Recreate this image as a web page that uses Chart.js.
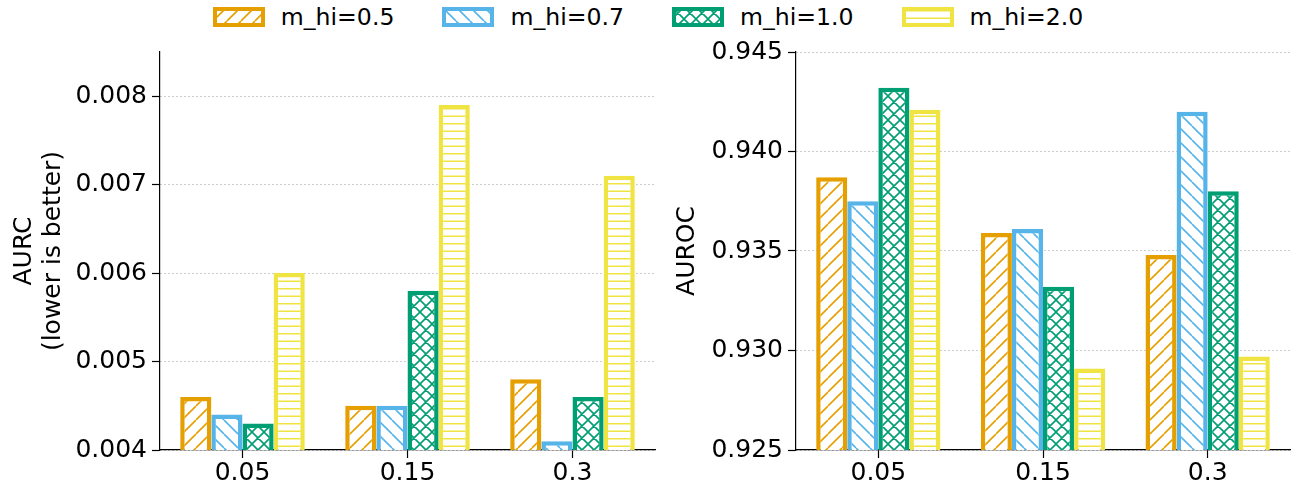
<!DOCTYPE html>
<html>
<head>
<meta charset="utf-8">
<script src="https://cdn.jsdelivr.net/npm/chart.js@4/dist/chart.umd.min.js"></script>
<style>
  body { margin: 0; width: 1296px; height: 492px; position: relative; background: #fff; font-family: "DejaVu Sans", sans-serif; }
  canvas { position: absolute; top: 0; }
  #legend { position: absolute; top: 0; left: 0; width: 1296px; height: 34px; display: flex; justify-content: center; align-items: center; gap: 48px; }
  .item { display: flex; align-items: center; }
  .item span { margin-left: 16px; font-size: 23.6px; color: #000; }
</style>
</head>
<body>
<div id="legend"></div>
<canvas id="aurc" width="660" height="492" style="left:0"></canvas>
<canvas id="auroc" width="636" height="492" style="left:660px"></canvas>
<script>
const categories = ['0.05', '0.15', '0.3'];
const seriesLabels = ['m_hi=0.5', 'm_hi=0.7', 'm_hi=1.0', 'm_hi=2.0'];
const colors = ['#E69F00', '#56B4E9', '#009E73', '#F0E442'];
const hatches = ['/', '\\', 'x', '-'];

// AURC per series, one value per category
const aurc05 = [0.0046, 0.0045, 0.0048];
const aurc07 = [0.0044, 0.0045, 0.0041];
const aurc10 = [0.0043, 0.0058, 0.0046];
const aurc20 = [0.0060, 0.0079, 0.0071];

// AUROC per series
const auroc05 = [0.9387, 0.9359, 0.9348];
const auroc07 = [0.9375, 0.9361, 0.9420];
const auroc10 = [0.9432, 0.9332, 0.9380];
const auroc20 = [0.9421, 0.9291, 0.9297];

function hatchPattern(ctx, color, kind) {
  const s = kind === 'x' ? 12 : (kind === '-' ? 15 : 14);
  const c = document.createElement('canvas');
  c.width = s; c.height = s;
  const g = c.getContext('2d');
  g.fillStyle = '#fff';
  g.fillRect(0, 0, s, s);
  g.strokeStyle = color;
  g.lineWidth = 1.6;
  g.beginPath();
  for (let k = -1; k <= 1; k++) {
    if (kind === '/' || kind === 'x') {
      g.moveTo(k * s, s); g.lineTo(k * s + s, 0);
    }
    if (kind === '\\' || kind === 'x') {
      g.moveTo(k * s, 0); g.lineTo(k * s + s, s);
    }
  }
  if (kind === '-') {
    g.moveTo(0, s / 4); g.lineTo(s, s / 4);
    g.moveTo(0, s * 3 / 4); g.lineTo(s, s * 3 / 4);
  }
  g.stroke();
  return ctx.createPattern(c, 'repeat');
}

// legend
const legend = document.getElementById('legend');
seriesLabels.forEach((lab, i) => {
  const item = document.createElement('div');
  item.className = 'item';
  const sw = document.createElement('canvas');
  sw.width = 52; sw.height = 20;
  sw.style.position = 'static';
  const g = sw.getContext('2d');
  g.fillStyle = hatchPattern(g, colors[i], hatches[i]);
  g.fillRect(0, 0, 52, 20);
  g.strokeStyle = colors[i];
  g.lineWidth = 4;
  g.strokeRect(2, 2, 48, 16);
  const t = document.createElement('span');
  t.textContent = lab;
  item.appendChild(sw);
  item.appendChild(t);
  legend.appendChild(item);
});

function makeChart(id, series, yMin, yMax, step, title, titlePad, yWidth, rightPad) {
  const ctx = document.getElementById(id).getContext('2d');
  return new Chart(ctx, {
    type: 'bar',
    data: {
      labels: categories,
      datasets: series.map((vals, i) => ({
        label: seriesLabels[i],
        data: vals,
        backgroundColor: hatchPattern(ctx, colors[i], hatches[i]),
        borderColor: colors[i],
        borderWidth: 4.5,
        barPercentage: 1,
        categoryPercentage: 0.755
      }))
    },
    options: {
      responsive: false,
      animation: false,
      devicePixelRatio: 1,
      layout: { padding: { top: 52, right: rightPad, left: 0, bottom: 0 } },
      plugins: { legend: { display: false }, tooltip: { enabled: false } },
      scales: {
        x: {
          offset: true,
          grid: { offset: false, drawOnChartArea: false, tickLength: 8, tickColor: '#000', tickWidth: 1.2 },
          border: { color: '#000', width: 1.2 },
          ticks: { color: '#000', padding: 0, font: { family: 'DejaVu Sans', size: 25 } },
          afterFit: s => { s.height = 42; }
        },
        y: {
          min: yMin,
          max: yMax,
          grid: { color: '#bdbdbd', lineWidth: 1, tickLength: 8, tickColor: '#000', tickWidth: 1.2 },
          border: { color: '#000', width: 1.2, dash: [1.5, 2.5] },
          ticks: {
            stepSize: step,
            includeBounds: false,
            color: '#000',
            padding: 5,
            font: { family: 'DejaVu Sans', size: 25 },
            callback: v => Number(v).toFixed(3)
          },
          title: {
            display: true,
            text: title,
            color: '#000',
            padding: { top: titlePad, bottom: 0 },
            font: { family: 'DejaVu Sans', size: 25, lineHeight: 1.17 }
          },
          afterFit: s => { s.width = yWidth; }
        }
      }
    }
  });
}

makeChart('aurc', [aurc05, aurc07, aurc10, aurc20], 0.004, 0.0085, 0.001,
  ['AURC', '(lower is better)'], 10, 160, 5);
makeChart('auroc', [auroc05, auroc07, auroc10, auroc20], 0.925, 0.945, 0.005,
  'AUROC', 13, 136, 6);
</script>
</body>
</html>
